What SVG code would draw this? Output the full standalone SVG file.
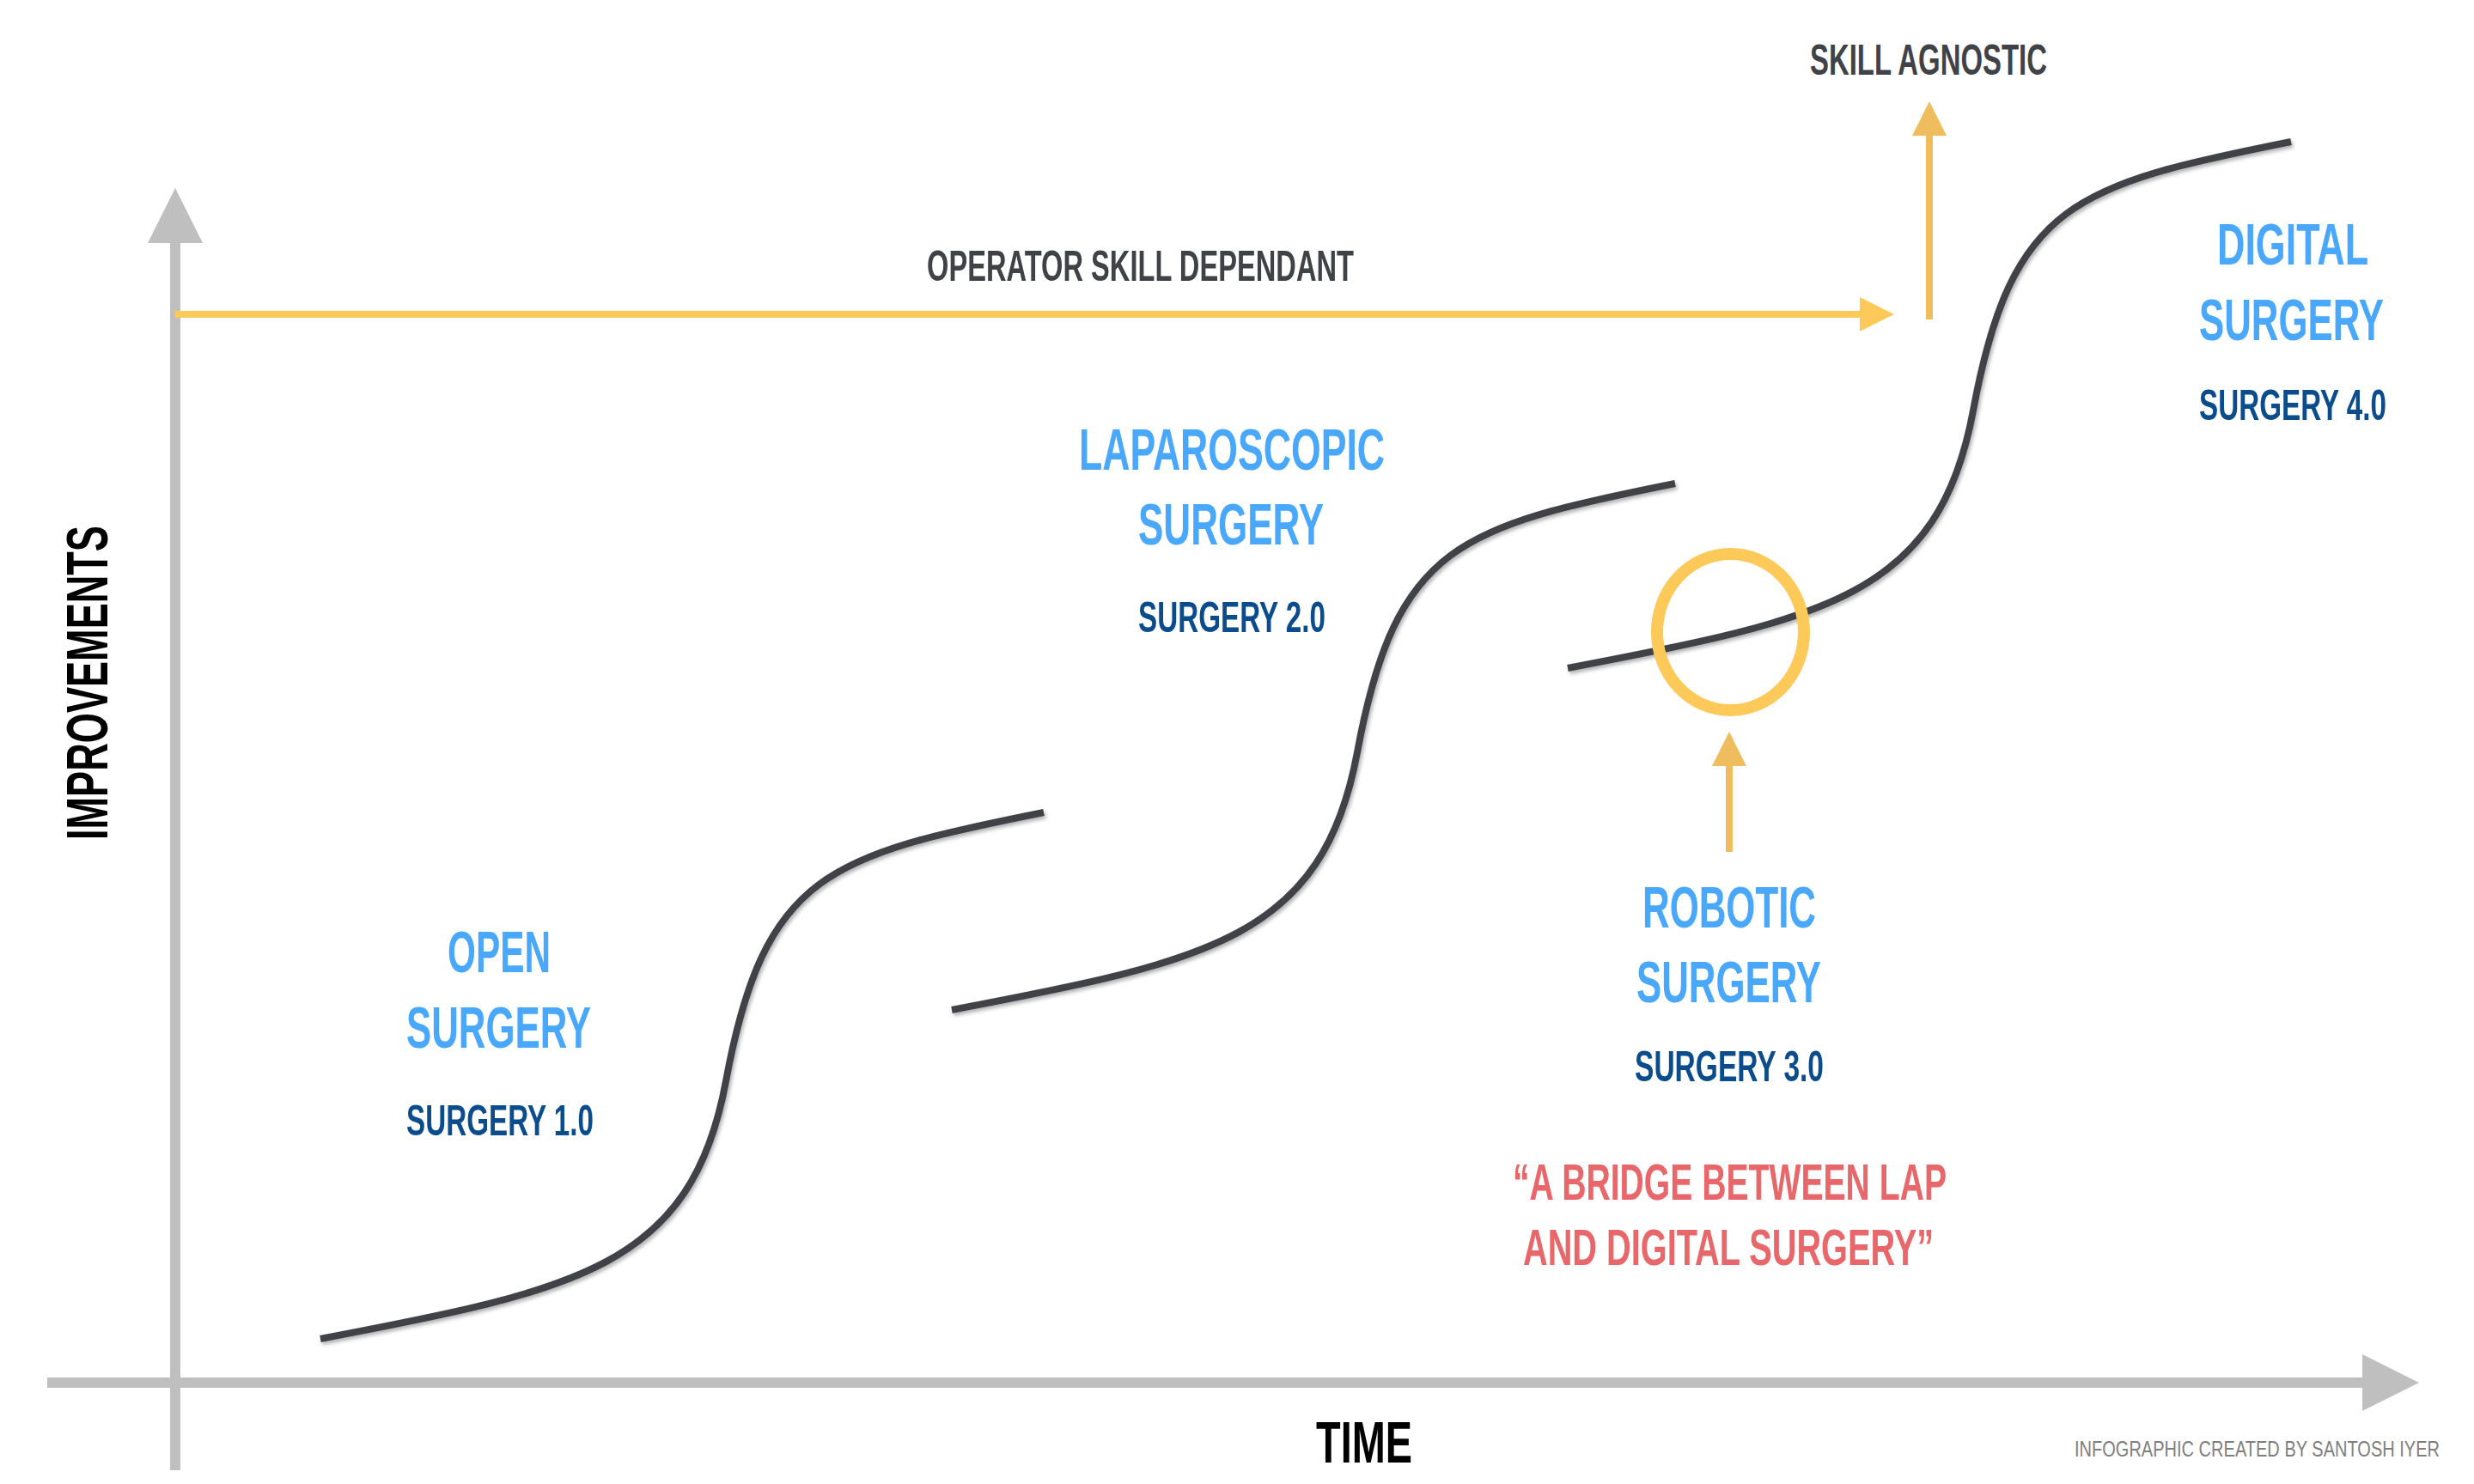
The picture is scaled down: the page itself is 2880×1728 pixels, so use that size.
<svg xmlns="http://www.w3.org/2000/svg" width="2880" height="1728" viewBox="0 0 2880 1728">
  <style>
    text { font-family: "Liberation Sans", Arial, sans-serif; font-weight: bold; }
    .title { font-size: 68px; fill: #4AA8FC; }
    .sub { font-size: 50px; fill: #0A4C8C; }
    .note { font-size: 50px; fill: #3F4247; }
    .quote { font-size: 60px; fill: #E8676A; }
    .axislabel { font-size: 68px; fill: #000000; }
    .credit { font-size: 26.5px; fill: #7F7F7F; font-weight: normal; }
    .axis { stroke: #BFBFBF; stroke-width: 12; fill: none; }
    .axishead { fill: #BFBFBF; }
    .yel { stroke: #FDC958; stroke-width: 8; fill: none; }
    .yelhead { fill: #FDC958; }
    .org { stroke: #F0BD5E; stroke-width: 8; fill: none; }
    .orghead { fill: #F0BD5E; }
    .curve { stroke: #3F4247; stroke-width: 8; fill: none; stroke-linecap: butt; }
  </style>
  <defs>
    <filter id="shadow" x="-10%" y="-10%" width="120%" height="120%">
      <feDropShadow dx="2" dy="3" stdDeviation="2" flood-color="#000000" flood-opacity="0.3"/>
    </filter>
    <path id="scurve" d="M0,0 C300,-57 432,-84 472,-300 C517,-543 592,-563 842,-613"/>
  </defs>
  <rect x="0" y="0" width="2880" height="1728" fill="#FFFFFF"/>

  <g id="axes">
    <line class="axis" x1="204" y1="1712" x2="204" y2="282"/>
    <polygon class="axishead" points="172,283 204,219 236,283"/>
    <line class="axis" x1="55" y1="1610" x2="2751" y2="1610"/>
    <polygon class="axishead" points="2750,1577 2816,1610 2750,1643"/>
    <text class="axislabel" transform="translate(125,978) rotate(-90) scale(0.66,1)" x="0" y="0" textLength="554.5" lengthAdjust="spacingAndGlyphs">IMPROVEMENTS</text>
    <text class="axislabel" transform="translate(1532,1703) scale(0.69,1)" x="0" y="0" textLength="162.3" lengthAdjust="spacingAndGlyphs">TIME</text>
  </g>

  <g id="curves" filter="url(#shadow)">
    <use href="#scurve" class="curve" transform="translate(373,1559)"/>
    <use href="#scurve" class="curve" transform="translate(1108,1176)"/>
    <use href="#scurve" class="curve" transform="translate(1825,778)"/>
  </g>

  <g id="connectors">
    <line class="yel" x1="204" y1="366" x2="2166" y2="366"/>
    <polygon class="yelhead" points="2165,346 2205,366 2165,386"/>
    <line class="org" x1="2246" y1="372" x2="2246" y2="157"/>
    <polygon class="orghead" points="2226,158 2246,118 2266,158"/>
    <line class="org" x1="2013" y1="992" x2="2013" y2="891"/>
    <polygon class="orghead" points="1993,892 2013,852 2033,892"/>
  </g>

  <g id="highlight-circle">
    <ellipse cx="2014.5" cy="736" rx="85.5" ry="91" fill="none" stroke="#FDC958" stroke-width="14"/>
  </g>

  <g id="operator-skill">
    <text class="note" transform="translate(1079,327) scale(0.65,1)" x="0" y="0" textLength="764.6" lengthAdjust="spacingAndGlyphs">OPERATOR SKILL DEPENDANT</text>
  </g>
  <g id="skill-agnostic">
    <text class="note" transform="translate(2107,87) scale(0.65,1)" x="0" y="0" textLength="424.6" lengthAdjust="spacingAndGlyphs">SKILL AGNOSTIC</text>
  </g>

  <g id="open-surgery">
    <text class="title" transform="translate(521,1132) scale(0.65,1)" x="0" y="0" textLength="184.6" lengthAdjust="spacingAndGlyphs">OPEN</text>
    <text class="title" transform="translate(473,1220) scale(0.65,1)" x="0" y="0" textLength="330.8" lengthAdjust="spacingAndGlyphs">SURGERY</text>
    <text class="sub" transform="translate(473,1322) scale(0.65,1)" x="0" y="0" textLength="335.4" lengthAdjust="spacingAndGlyphs">SURGERY 1.0</text>
  </g>

  <g id="laparoscopic-surgery">
    <text class="title" transform="translate(1256,547) scale(0.65,1)" x="0" y="0" textLength="547.7" lengthAdjust="spacingAndGlyphs">LAPAROSCOPIC</text>
    <text class="title" transform="translate(1325,634) scale(0.65,1)" x="0" y="0" textLength="332.3" lengthAdjust="spacingAndGlyphs">SURGERY</text>
    <text class="sub" transform="translate(1325,736) scale(0.65,1)" x="0" y="0" textLength="335.4" lengthAdjust="spacingAndGlyphs">SURGERY 2.0</text>
  </g>

  <g id="robotic-surgery">
    <text class="title" transform="translate(1912,1080) scale(0.65,1)" x="0" y="0" textLength="310.8" lengthAdjust="spacingAndGlyphs">ROBOTIC</text>
    <text class="title" transform="translate(1905,1167) scale(0.65,1)" x="0" y="0" textLength="330.8" lengthAdjust="spacingAndGlyphs">SURGERY</text>
    <text class="sub" transform="translate(1903,1259) scale(0.65,1)" x="0" y="0" textLength="338.5" lengthAdjust="spacingAndGlyphs">SURGERY 3.0</text>
    <text class="quote" transform="translate(1761,1397) scale(0.65,1)" x="0" y="0" textLength="776.9" lengthAdjust="spacingAndGlyphs">“A BRIDGE BETWEEN LAP</text>
    <text class="quote" transform="translate(1773,1473) scale(0.65,1)" x="0" y="0" textLength="735.4" lengthAdjust="spacingAndGlyphs">AND DIGITAL SURGERY”</text>
  </g>

  <g id="digital-surgery">
    <text class="title" transform="translate(2581,308) scale(0.65,1)" x="0" y="0" textLength="270.8" lengthAdjust="spacingAndGlyphs">DIGITAL</text>
    <text class="title" transform="translate(2560,396) scale(0.65,1)" x="0" y="0" textLength="330.8" lengthAdjust="spacingAndGlyphs">SURGERY</text>
    <text class="sub" transform="translate(2560,489) scale(0.65,1)" x="0" y="0" textLength="335.4" lengthAdjust="spacingAndGlyphs">SURGERY 4.0</text>
  </g>

  <g id="credit">
    <text class="credit" transform="translate(2415,1696) scale(0.75,1)" x="0" y="0" textLength="566.7" lengthAdjust="spacingAndGlyphs">INFOGRAPHIC CREATED BY SANTOSH IYER</text>
  </g>
</svg>
